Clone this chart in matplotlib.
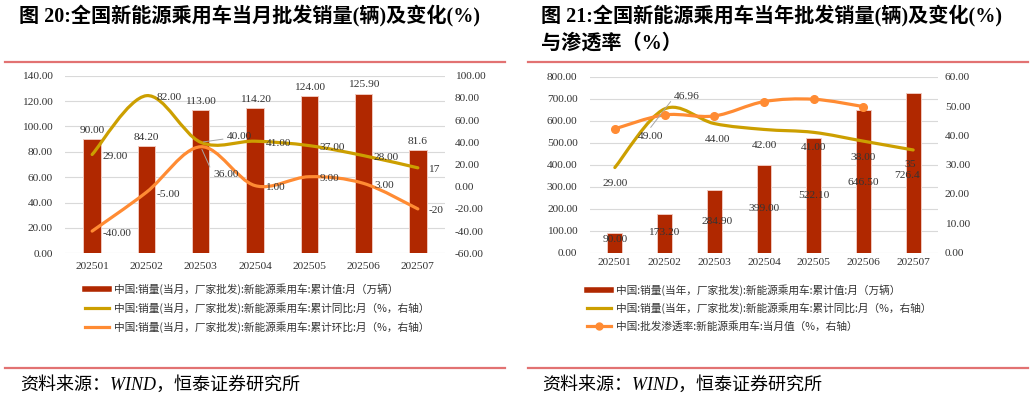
import numpy as np
import matplotlib
matplotlib.use('Agg')
from matplotlib import pyplot as plt
from matplotlib.path import Path
from matplotlib.patches import PathPatch
from matplotlib.lines import Line2D
from matplotlib.transforms import offset_copy

plt.rcParams['font.family'] = ['Liberation Serif', 'Noto Sans CJK SC', 'DejaVu Sans']

# ---- data ----
months = ['202501', '202502', '202503', '202504', '202505', '202506', '202507']

# 图20 当月
monthly_sales = [90.00, 84.20, 113.00, 114.20, 124.00, 125.90, 81.6]
monthly_sales_text = ['90.00', '84.20', '113.00', '114.20', '124.00', '125.90', '81.6']
monthly_yoy = [29, 82, 40, 41, 37, 28, 17]
monthly_yoy_text = ['29.00', '82.00', '40.00', '41.00', '37.00', '28.00', '17']
monthly_mom = [-40, -5, 36, 1, 9, 3, -20]
monthly_mom_text = ['-40.00', '-5.00', '36.00', '1.00', '9.00', '3.00', '-20']

# 图21 当年累计
ytd_sales = [90.00, 173.20, 284.90, 399.00, 522.10, 646.50, 726.4]
ytd_sales_text = ['90.00', '173.20', '284.90', '399.00', '522.10', '646.50', '726.4']
ytd_yoy = [29, 49, 44, 42, 41, 38, 35]
ytd_yoy_text = ['29.00', '49.00', '44.00', '42.00', '41.00', '38.00', '35']
penetration = [42.2, 46.96, 46.6, 51.5, 52.3, 49.8]   # 202507 无数据

leg1 = ['中国:销量(当月，厂家批发):新能源乘用车:累计值:月（万辆）',
        '中国:销量(当月，厂家批发):新能源乘用车:累计同比:月（%，右轴）',
        '中国:销量(当月，厂家批发):新能源乘用车:累计环比:月（%，右轴）']
leg2 = ['中国:销量(当年，厂家批发):新能源乘用车:累计值:月（万辆）',
        '中国:销量(当年，厂家批发):新能源乘用车:累计同比:月（%，右轴）',
        '中国:批发渗透率:新能源乘用车:当月值（%，右轴）']

# ---- style ----
BAR = '#B02800'
GOLD = '#CC9F00'
ORANGE = '#FF8B33'
RULE = '#E27272'
GRID = '#D9D9D9'
TXT = '#333333'
CJK = ['Noto Sans CJK SC', 'DejaVu Sans']
W, H = 1035, 399


def smooth(xs, ys):
    # Excel 风格平滑线（Catmull-Rom -> 三次贝塞尔）
    n = len(xs)
    verts = [(xs[0], ys[0])]
    codes = [Path.MOVETO]
    for i in range(n - 1):
        a = i - 1 if i > 0 else i
        d = i + 2 if i + 2 < n else i + 1
        c1 = (xs[i] + (xs[i + 1] - xs[a]) / 6, ys[i] + (ys[i + 1] - ys[a]) / 6)
        c2 = (xs[i + 1] - (xs[d] - xs[i]) / 6, ys[i + 1] - (ys[d] - ys[i]) / 6)
        verts += [c1, c2, (xs[i + 1], ys[i + 1])]
        codes += [Path.CURVE4] * 3
    return Path(verts, codes)


def fx(px):
    return px / W


def fy(py):
    return 1 - py / H


def style_axes(ax, ax2, lpad, rpad, xpad):
    for a in (ax, ax2):
        for s in a.spines.values():
            s.set_visible(False)
        a.tick_params(length=0, labelsize=8.2, colors=TXT)
    ax.tick_params(axis='y', pad=lpad)
    ax2.tick_params(axis='y', pad=rpad)
    ax.tick_params(axis='x', pad=xpad)
    ax.yaxis.grid(True, color=GRID, lw=0.8)
    ax.set_axisbelow(True)
    ax.set_zorder(ax2.get_zorder() - 1)
    ax.patch.set_visible(False)


fig = plt.figure(figsize=(10.35, 3.99), dpi=100)
x = np.arange(len(months))

# ================= 图20 =================
ax = fig.add_axes([fx(65), fy(253.3), fx(380), (253.3 - 75.7) / H])
ax2 = ax.twinx()
ax.bar(x, monthly_sales, width=0.32, color=BAR, edgecolor='#F0C8BE', lw=0.7)
ax.set_ylim(0, 140)
ax.set_yticks(np.arange(0, 141, 20))
ax.set_yticklabels(['%.2f' % v for v in np.arange(0, 141, 20)])
ax.set_xlim(-0.5, 6.5)
ax.set_xticks(x)
ax.set_xticklabels(months)
ax2.set_ylim(-60, 100)
ax2.set_yticks(np.arange(-60, 101, 20))
ax2.set_yticklabels(['%.2f' % v for v in np.arange(-60, 101, 20)])
style_axes(ax, ax2, 9, 7, 6)

ax2.add_patch(PathPatch(smooth(x, monthly_yoy), fill=False, ec=GOLD, lw=2.3, capstyle='round'))
ax2.add_patch(PathPatch(smooth(x, monthly_mom), fill=False, ec=ORANGE, lw=2.3, capstyle='round'))

for i, v in enumerate(monthly_sales):
    ax.annotate(monthly_sales_text[i], (x[i], v), xytext=(0, 3), textcoords='offset points',
                ha='center', va='bottom', fontsize=8.2, color=TXT)
for i in range(len(months)):
    if i == 2:
        continue
    ax2.annotate(monthly_yoy_text[i], (x[i], monthly_yoy[i]), xytext=(7.5, -1.5),
                 textcoords='offset points', ha='left', va='center', fontsize=8.2, color=TXT)
    ax2.annotate(monthly_mom_text[i], (x[i], monthly_mom[i]), xytext=(7.5, -1.5),
                 textcoords='offset points', ha='left', va='center', fontsize=8.2, color=TXT)
# 202503 两个带引导线的标签
ax2.annotate(monthly_yoy_text[2], (x[2], monthly_yoy[2]), xytext=(19, 4),
             textcoords='offset points', ha='left', va='center', fontsize=8.2, color=TXT,
             arrowprops=dict(arrowstyle='-', color='#A6A6A6', lw=0.7, shrinkA=1, shrinkB=2))
ax2.annotate(monthly_mom_text[2], (x[2], monthly_mom[2]), xytext=(9, -20),
             textcoords='offset points', ha='left', va='center', fontsize=8.2, color=TXT,
             arrowprops=dict(arrowstyle='-', color='#A6A6A6', lw=0.7, shrinkA=1, shrinkB=2,
                             relpos=(0, 0.5)))

h1 = [Line2D([], [], color=BAR, lw=4),
      Line2D([], [], color=GOLD, lw=2.3),
      Line2D([], [], color=ORANGE, lw=2.3)]
fig.legend(h1, leg1, loc='center left', bbox_to_anchor=(fx(85), fy(308)), frameon=False,
           prop={'family': CJK, 'size': 7.7}, handlelength=2.2, handletextpad=0.5,
           labelspacing=0.65, borderpad=0, borderaxespad=0, labelcolor=TXT)

# ================= 图21 =================
bx = fig.add_axes([fx(590), fy(252.5), fx(348), (252.5 - 76.7) / H])
bx2 = bx.twinx()
bx.bar(x, ytd_sales, width=0.3, color=BAR, edgecolor='#F0C8BE', lw=0.7)
bx.set_ylim(0, 800)
bx.set_yticks(np.arange(0, 801, 100))
bx.set_yticklabels(['%.2f' % v for v in np.arange(0, 801, 100)])
bx.set_xlim(-0.5, 6.5)
bx.set_xticks(x)
bx.set_xticklabels(months)
bx2.set_ylim(0, 60)
bx2.set_yticks(np.arange(0, 61, 10))
bx2.set_yticklabels(['%.2f' % v for v in np.arange(0, 61, 10)])
style_axes(bx, bx2, 9, 5, 4)

bx2.add_patch(PathPatch(smooth(x, ytd_yoy), fill=False, ec=GOLD, lw=2.3, capstyle='round'))
xp = x[:len(penetration)]
bx2.add_patch(PathPatch(smooth(xp, penetration), fill=False, ec=ORANGE, lw=2.3, capstyle='round'))
bx2.plot(xp, penetration, 'o', color=ORANGE, ms=5.5, zorder=5)

# 柱子标签位置（左轴单位）
bar_label_y = [57, 89, 139, 202, 261, 320, 352]
bar_label_dx = [0, -1, 3, 0, 0, 0, -6]
for i in range(len(months)):
    bx.annotate(ytd_sales_text[i], (x[i], bar_label_y[i]), xytext=(bar_label_dx[i] * 0.72, 0),
                textcoords='offset points', ha='center', va='center', fontsize=8.2, color=TXT)
yoy_off = [(0, -11.5), (-10, -19.5), (2, -11.8), (0, -11.8), (0, -11.2), (0, -11.5), (-2, -10.8)]
for i in range(len(months)):
    bx2.annotate(ytd_yoy_text[i], (x[i], ytd_yoy[i]), xytext=yoy_off[i], textcoords='offset points',
                 ha='center', va='center', fontsize=8.2, color=TXT)
bx2.annotate('46.96', (x[1], penetration[1]),
             xycoords=offset_copy(bx2.transData, fig=fig, x=-10, y=-9, units='points'),
             xytext=(17, 22), textcoords='offset points', ha='left', va='center', fontsize=8.2,
             color=TXT, arrowprops=dict(arrowstyle='-', color='#A6A6A6', lw=0.7,
                                        shrinkA=1, shrinkB=0, relpos=(0, 0.5)))

h2 = [Line2D([], [], color=BAR, lw=4),
      Line2D([], [], color=GOLD, lw=2.3),
      Line2D([], [], color=ORANGE, lw=2.3, marker='o', ms=5)]
fig.legend(h2, leg2, loc='center left', bbox_to_anchor=(fx(587), fy(308)), frameon=False,
           prop={'family': CJK, 'size': 7.7}, handlelength=2.2, handletextpad=0.5,
           labelspacing=0.65, borderpad=0, borderaxespad=0, labelcolor=TXT)

# ---- 标题、分隔线、来源 ----
title_font = dict(family=['Liberation Serif', 'Noto Sans CJK SC'], weight='bold', size=14.5,
                  color='black', va='center', ha='left')
fig.text(fx(19), fy(15), '图 20:全国新能源乘用车当月批发销量(辆)及变化(%)', **title_font)
fig.text(fx(541), fy(15), '图 21:全国新能源乘用车当年批发销量(辆)及变化(%)', **title_font)
fig.text(fx(541), fy(44), '与渗透率（%）', **title_font)

for x0, x1 in [(5, 505), (528, 1028)]:
    for yy in (61.7, 368):
        fig.add_artist(Line2D([fx(x0), fx(x1)], [fy(yy), fy(yy)], color=RULE, lw=1.6))

src_font = dict(family=['Liberation Serif', 'Noto Sans CJK SC'], style='italic', size=13,
                color='black', va='center', ha='left')
fig.text(fx(20), fy(385), '资料来源：WIND，恒泰证券研究所', **src_font)
fig.text(fx(542), fy(385), '资料来源：WIND，恒泰证券研究所', **src_font)

fig.savefig('out.png', dpi=100)
